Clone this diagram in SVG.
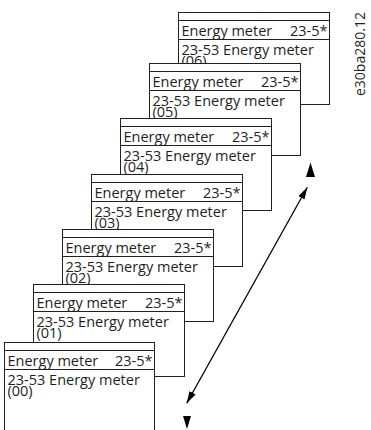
<svg xmlns="http://www.w3.org/2000/svg" width="371" height="430" viewBox="0 0 371 430">
<style>
.box{fill:#fff;stroke:#231f20;stroke-width:1}
.sep{stroke:#231f20;stroke-width:1;fill:none}
.t{font-family:"Open Sans","DejaVu Sans",sans-serif;font-size:14.5px;fill:#231f20}
.r{text-anchor:end}
.lbl{font-family:"Open Sans","DejaVu Sans",sans-serif;font-size:14px;fill:#231f20}
.conn{stroke:#000;stroke-width:1.3;fill:none}
.tri{fill:#000}
</style>
<defs>
<marker id="ah" viewBox="0 0 12 7" refX="12" refY="3.5" markerWidth="12" markerHeight="7" markerUnits="userSpaceOnUse" orient="auto-start-reverse">
<path d="M0,0 L12,3.5 L0,7 z" fill="#000"/>
</marker>
</defs>
<g id="node-06" transform="translate(178.5,12.5)">
<rect class="box" x="0" y="0" width="151" height="92"/>
<line class="sep" x1="0" y1="8" x2="151" y2="8"/>
<line class="sep" x1="0" y1="27" x2="151" y2="27"/>
<text class="t" x="3" y="23">Energy meter</text>
<text class="t r" x="149" y="23">23-5*</text>
<text class="t" x="3" y="42">23-53 Energy meter</text>
<text class="t" x="3" y="53">(06)</text>
</g>
<g id="node-05" transform="translate(149.5,63.5)">
<rect class="box" x="0" y="0" width="151" height="92"/>
<line class="sep" x1="0" y1="8" x2="151" y2="8"/>
<line class="sep" x1="0" y1="27" x2="151" y2="27"/>
<text class="t" x="3" y="23">Energy meter</text>
<text class="t r" x="149" y="23">23-5*</text>
<text class="t" x="3" y="42">23-53 Energy meter</text>
<text class="t" x="3" y="53">(05)</text>
</g>
<g id="node-04" transform="translate(120.5,118.5)">
<rect class="box" x="0" y="0" width="151" height="92"/>
<line class="sep" x1="0" y1="8" x2="151" y2="8"/>
<line class="sep" x1="0" y1="27" x2="151" y2="27"/>
<text class="t" x="3" y="23">Energy meter</text>
<text class="t r" x="149" y="23">23-5*</text>
<text class="t" x="3" y="42">23-53 Energy meter</text>
<text class="t" x="3" y="53">(04)</text>
</g>
<g id="node-03" transform="translate(91.5,174.5)">
<rect class="box" x="0" y="0" width="151" height="92"/>
<line class="sep" x1="0" y1="8" x2="151" y2="8"/>
<line class="sep" x1="0" y1="27" x2="151" y2="27"/>
<text class="t" x="3" y="23">Energy meter</text>
<text class="t r" x="149" y="23">23-5*</text>
<text class="t" x="3" y="42">23-53 Energy meter</text>
<text class="t" x="3" y="53">(03)</text>
</g>
<g id="node-02" transform="translate(62.5,229.5)">
<rect class="box" x="0" y="0" width="151" height="92"/>
<line class="sep" x1="0" y1="8" x2="151" y2="8"/>
<line class="sep" x1="0" y1="27" x2="151" y2="27"/>
<text class="t" x="3" y="23">Energy meter</text>
<text class="t r" x="149" y="23">23-5*</text>
<text class="t" x="3" y="42">23-53 Energy meter</text>
<text class="t" x="3" y="53">(02)</text>
</g>
<g id="node-01" transform="translate(33.5,284.5)">
<rect class="box" x="0" y="0" width="151" height="92"/>
<line class="sep" x1="0" y1="8" x2="151" y2="8"/>
<line class="sep" x1="0" y1="27" x2="151" y2="27"/>
<text class="t" x="3" y="23">Energy meter</text>
<text class="t r" x="149" y="23">23-5*</text>
<text class="t" x="3" y="42">23-53 Energy meter</text>
<text class="t" x="3" y="53">(01)</text>
</g>
<g id="node-00" transform="translate(4.5,342.5)">
<rect class="box" x="0" y="0" width="150" height="92"/>
<line class="sep" x1="0" y1="8" x2="150" y2="8"/>
<line class="sep" x1="0" y1="27" x2="150" y2="27"/>
<text class="t" x="3" y="23">Energy meter</text>
<text class="t r" x="148" y="23">23-5*</text>
<text class="t" x="3" y="42">23-53 Energy meter</text>
<text class="t" x="3" y="53">(00)</text>
</g>
<g id="connectors">
<line class="conn" x1="186.7" y1="403.3" x2="307.3" y2="187.3" marker-start="url(#ah)" marker-end="url(#ah)"/>
<polygon class="tri" points="310.5,162.5 306,177 315,177"/>
<polygon class="tri" points="183,416 191,416 187,429"/>
</g>
<text class="lbl" transform="translate(365,96) rotate(-90)">e30ba280.12</text>
</svg>
